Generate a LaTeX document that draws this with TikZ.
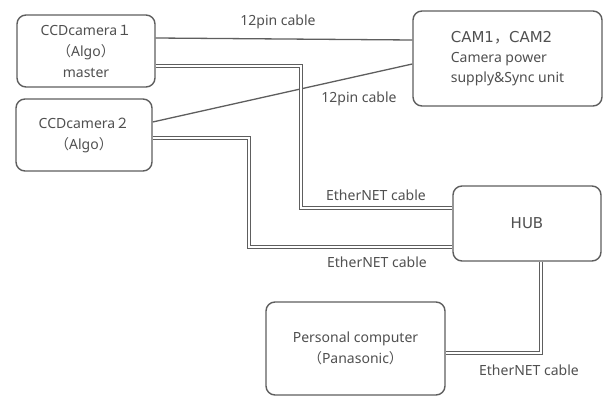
\documentclass[tikz,border=0pt]{standalone}
\usepackage{fontspec}
\setmainfont{Noto Sans}
\newfontfamily\cjk{Noto Sans CJK JP}
\newfontfamily\widefont{DejaVu Sans}
\usepackage{tikz}
\usetikzlibrary{calc,positioning}
\definecolor{linegray}{HTML}{5E5E5E}
\definecolor{textgray}{HTML}{505050}
\newcommand{\fw}[1]{{\cjk #1}}
\tikzset{
  box/.style={draw=linegray, line width=1.4pt, rounded corners=9pt, fill=white, text=textgray, align=center, font=\fontsize{14}{21}\selectfont, inner sep=0pt},
  cable/.style={draw=linegray, line width=1.3pt},
  ecable/.style={draw=linegray, line width=1.1pt, double=white, double distance=2pt},
  lbl/.style={text=textgray, font=\fontsize{14}{16}\selectfont, inner sep=0pt}
}
\begin{document}
\begin{tikzpicture}[x=1pt,y=-1pt]
  \useasboundingbox (0,0) rectangle (603,396);
  % devices
  \node[box, minimum width=138pt, minimum height=72pt] (cam1) at (86,51) {CCDcamera\fw{１}\\\fw{（}Algo\fw{）}\\master};
  \node[box, minimum width=136pt, minimum height=72pt] (cam2) at (84,135) {CCDcamera\fw{２}\\\fw{（}Algo\fw{）}};
  \node[box, minimum width=189pt, minimum height=95pt] (sync) at (507.5,58.5)
    {\begin{tabular}{@{}l@{}}{\widefont\fontsize{15}{21}\selectfont CAM1\fw{，}CAM2}\\[-1pt]Camera power\\[-1pt]supply\&Sync unit\end{tabular}};
  \node[box, minimum width=148pt, minimum height=75pt, font=\widefont\fontsize{15}{21}\selectfont] (hub) at (527,223.5) {HUB};
  \node[box, minimum width=179pt, minimum height=93pt] (pc) at (355.5,348.5) {Personal computer\\\fw{（}Panasonic\fw{）}};

  % 12pin cables
  \draw[cable] ([yshift=13pt]cam1.east) -- ([yshift=18.5pt]sync.west);
  \draw[cable] ([yshift=13pt]cam2.east) -- ([yshift=-5.5pt]sync.west);
  \node[lbl] (pin1) at (278,22) {12pin cable};
  \node[lbl] (pin2) at (359,99) {12pin cable};

  % ethernet cables
  \draw[ecable] ([yshift=-15pt]cam1.east) -- ++(145,0) |- ([yshift=15.5pt]hub.west);
  \draw[ecable] ([yshift=-3pt]cam2.east) -- ++(96,0) |- ([yshift=-23.5pt]hub.west);
  \draw[ecable] ([xshift=14pt]hub.south) |- ([yshift=-4.5pt]pc.east);
  \node[lbl] (eth1) at (376,195) {EtherNET cable};
  \node[lbl] (eth2) at (377,262) {EtherNET cable};
  \node[lbl] (eth3) at (529,370) {EtherNET cable};
\end{tikzpicture}
\end{document}
